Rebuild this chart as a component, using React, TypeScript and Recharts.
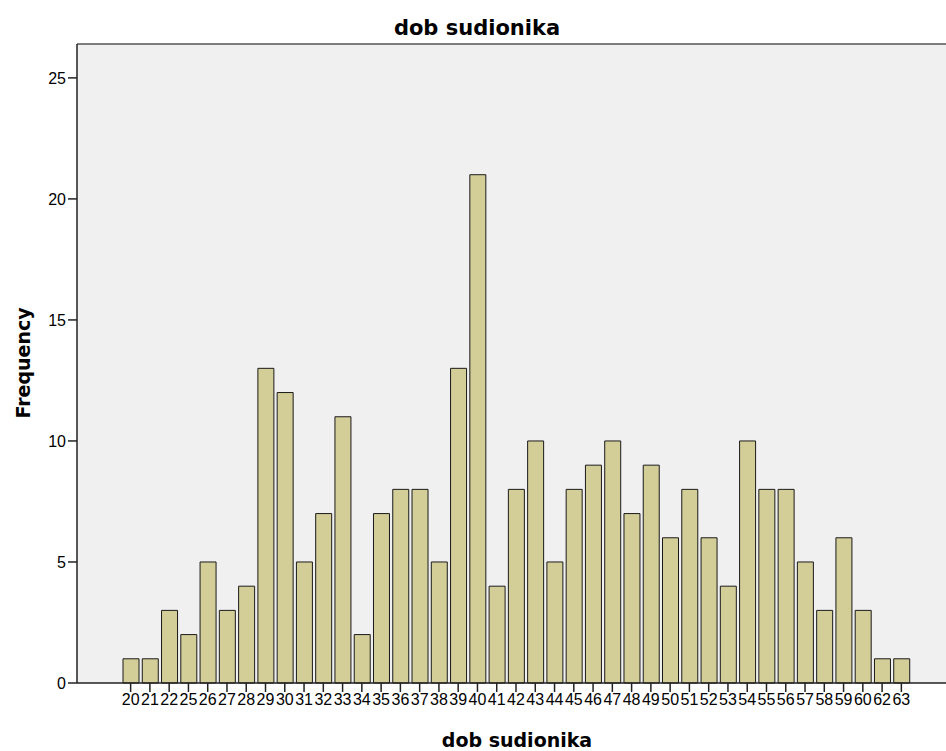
import { BarChart, Bar, XAxis, YAxis, CartesianGrid, ReferenceLine } from 'recharts';

const ages = [
  '20', '21', '22', '25', '26', '27', '28', '29', '30', '31', '32', '33', '34', '35',
  '36', '37', '38', '39', '40', '41', '42', '43', '44', '45', '46', '47', '48', '49',
  '50', '51', '52', '53', '54', '55', '56', '57', '58', '59', '60', '62', '63'
];
const frequencies = [
  1, 1, 3, 2, 5, 3, 4, 13, 12, 5, 7, 11, 2, 7,
  8, 8, 5, 13, 21, 4, 8, 10, 5, 8, 9, 10, 7, 9,
  6, 8, 6, 4, 10, 8, 8, 5, 3, 6, 3, 1, 1
];
const yTicks = [0, 5, 10, 15, 20, 25];

const data = ages.map((age, i) => ({ age, count: frequencies[i] }));

const tickFont = '"Liberation Sans", Arial, sans-serif';
const labelFont = '"DejaVu Sans", Verdana, sans-serif';

export default function App() {
  return (
    <div style={{ position: 'fixed', top: 0, left: 0, width: 946, height: 751, background: '#fff', overflow: 'hidden' }}>
      <div style={{ position: 'absolute', top: 16, left: 477, transform: 'translateX(-50%)', whiteSpace: 'nowrap', fontWeight: 'bold', fontSize: 21, fontFamily: labelFont, lineHeight: '24px' }}>
        dob sudionika
      </div>
      <div style={{ position: 'absolute', top: 729, left: 517, transform: 'translateX(-50%)', whiteSpace: 'nowrap', fontWeight: 'bold', fontSize: 19, fontFamily: labelFont, lineHeight: '22px' }}>
        dob sudionika
      </div>
      <div style={{ position: 'absolute', left: 23, top: 363, width: 0, height: 0 }}>
        <div style={{ position: 'absolute', left: -100, top: -12, width: 200, lineHeight: '24px', textAlign: 'center', transform: 'rotate(-90deg)', fontWeight: 'bold', fontSize: 19, fontFamily: labelFont }}>
          Frequency
        </div>
      </div>
      <BarChart width={946} height={751} data={data} margin={{ top: 44, right: 0, bottom: 38, left: 0 }} style={{ position: 'absolute', top: 0, left: 0 }}>
        <CartesianGrid horizontal={false} vertical={false} fill="#F0F0F0" />
        <ReferenceLine y={26.4} stroke="#555" strokeWidth={1.5} ifOverflow="extendDomain" />
        <XAxis
          dataKey="age"
          interval={0}
          padding={{ left: 44, right: 35 }}
          tickSize={9}
          tickMargin={2}
          tick={{ fontSize: 16, fill: '#000', fontFamily: tickFont }}
          stroke="#222"
          strokeWidth={1.5}
        />
        <YAxis
          width={77}
          domain={[0, 26.4]}
          ticks={yTicks}
          tickSize={9}
          tickMargin={2}
          tick={{ fontSize: 16, fill: '#000', fontFamily: tickFont }}
          stroke="#222"
          strokeWidth={1.5}
        />
        <Bar dataKey="count" fill="#D3CD98" stroke="#1a1a1a" strokeWidth={1} barSize={16} isAnimationActive={false} />
      </BarChart>
    </div>
  );
}
